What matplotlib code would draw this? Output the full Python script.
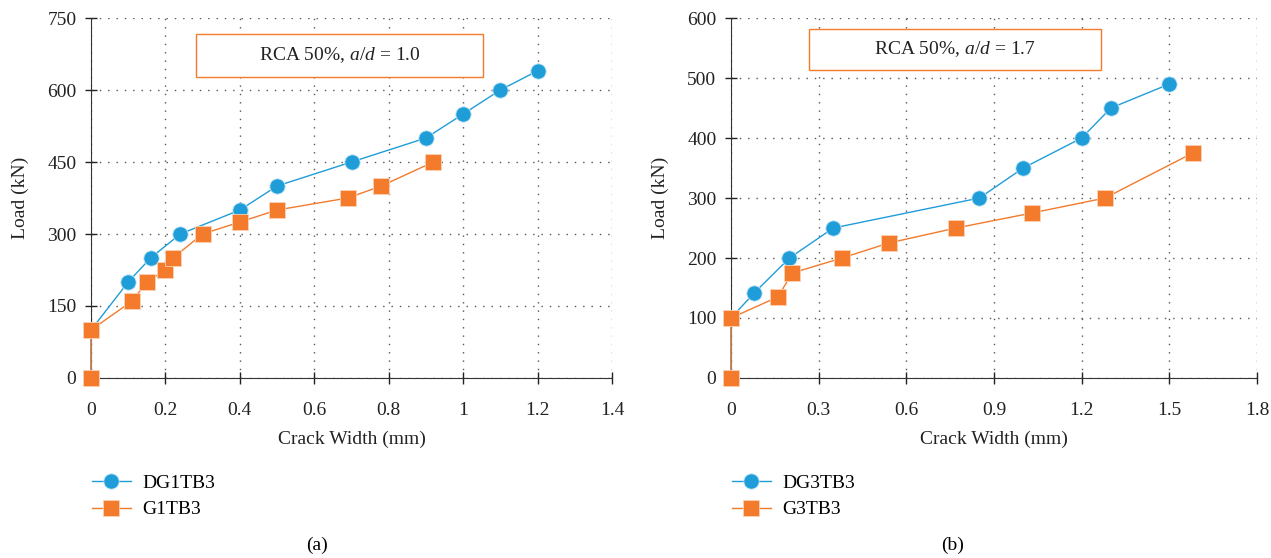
import matplotlib.pyplot as plt
from matplotlib.patches import Rectangle

plt.rcParams["font.family"] = ["Liberation Serif", "DejaVu Serif"]
plt.rcParams["mathtext.fontset"] = "custom"
plt.rcParams["mathtext.it"] = "Liberation Serif:italic"
plt.rcParams["mathtext.rm"] = "Liberation Serif"

BLUE = "#1f9dd9"
ORANGE = "#f47a2c"

# panel (a): RCA 50%, a/d = 1.0
a_dg_x = [0, 0, 0.1, 0.16, 0.24, 0.4, 0.5, 0.7, 0.9, 1.0, 1.1, 1.2]
a_dg_y = [0, 100, 200, 250, 300, 350, 400, 450, 500, 550, 600, 640]
a_g_x = [0, 0, 0.11, 0.15, 0.2, 0.22, 0.3, 0.4, 0.5, 0.69, 0.78, 0.92]
a_g_y = [0, 100, 160, 200, 225, 250, 300, 325, 350, 375, 400, 450]

# panel (b): RCA 50%, a/d = 1.7
b_dg_x = [0, 0, 0.08, 0.2, 0.35, 0.85, 1.0, 1.2, 1.3, 1.5]
b_dg_y = [0, 100, 142, 200, 250, 300, 350, 400, 450, 490]
b_g_x = [0, 0, 0.16, 0.21, 0.38, 0.54, 0.77, 1.03, 1.28, 1.58]
b_g_y = [0, 100, 135, 175, 200, 225, 250, 275, 300, 375]

a_xticks = [0, 0.2, 0.4, 0.6, 0.8, 1, 1.2, 1.4]
a_xlabels = ["0", "0.2", "0.4", "0.6", "0.8", "1", "1.2", "1.4"]
a_yticks = [0, 150, 300, 450, 600, 750]
b_xticks = [0, 0.3, 0.6, 0.9, 1.2, 1.5, 1.8]
b_xlabels = ["0", "0.3", "0.6", "0.9", "1.2", "1.5", "1.8"]
b_yticks = [0, 100, 200, 300, 400, 500, 600]

fig = plt.figure(figsize=(12.71, 5.58), dpi=100)
FS = 14


def panel(rect, dg, g, names, xt, xl, yt, note, box, tag, tag_x):
    ax = fig.add_axes(rect)
    l1, = ax.plot(dg[0], dg[1], color=BLUE, lw=1, marker="o", ms=11,
                  markeredgecolor="#bfe3f5", markeredgewidth=0.6, clip_on=False, zorder=3)
    l2, = ax.plot(g[0], g[1], color=ORANGE, lw=1, marker="s", ms=11,
                  markeredgecolor="#fbd2b5", markeredgewidth=0.6, clip_on=False, zorder=4)
    ax.set_xlim(xt[0], xt[-1])
    ax.set_ylim(yt[0], yt[-1])
    ax.set_xticks(xt)
    ax.set_xticklabels(xl)
    ax.set_yticks(yt)
    ax.tick_params(direction="inout", length=9, width=1, labelsize=FS, colors="#222222")
    ax.tick_params(axis="x", pad=13)
    ax.tick_params(axis="y", pad=6)
    for s in ["top", "right"]:
        ax.spines[s].set_visible(False)
    for s in ["left", "bottom"]:
        ax.spines[s].set_color("#333333")
    ax.grid(True, linestyle=(0, (1, 5)), color="#555555", lw=1)
    ax.set_axisbelow(True)
    ax.set_xlabel("Crack Width (mm)", fontsize=FS, color="#222222", labelpad=8)
    ax.set_ylabel("Load (kN)", fontsize=FS, color="#222222", labelpad=13)
    x0, y0, x1, y1 = box
    ax.add_patch(Rectangle((x0, y0), x1 - x0, y1 - y0, transform=ax.transAxes,
                           fc="white", ec=ORANGE, lw=1, zorder=5, clip_on=False))
    ax.text((x0 + x1) / 2, (y0 + y1) / 2, note, transform=ax.transAxes, fontsize=FS,
            ha="center", va="center", color="#222222", zorder=6)
    fig.legend([l1, l2], names, loc="upper left",
               bbox_to_anchor=(rect[0] - 0.013, 1 - 457 / 558), frameon=False,
               fontsize=FS, handlelength=2, handletextpad=0.6, labelspacing=0.45)
    fig.text(tag_x, 1 - 545 / 558, tag, fontsize=FS, ha="center", va="center")
    return ax


panel([91 / 1271, 0.3226, 521 / 1271, 0.6451], (a_dg_x, a_dg_y), (a_g_x, a_g_y),
      ["DG1TB3", "G1TB3"], a_xticks, a_xlabels, a_yticks,
      r"RCA 50%, $a/d$ = 1.0", (0.2015, 0.836, 0.752, 0.9556), "(a)", 317 / 1271)
panel([731 / 1271, 0.3226, 526 / 1271, 0.6451], (b_dg_x, b_dg_y), (b_g_x, b_g_y),
      ["DG3TB3", "G3TB3"], b_xticks, b_xlabels, b_yticks,
      r"RCA 50%, $a/d$ = 1.7", (0.148, 0.856, 0.703, 0.969), "(b)", 953 / 1271)

fig.savefig("out.png", dpi=100)
